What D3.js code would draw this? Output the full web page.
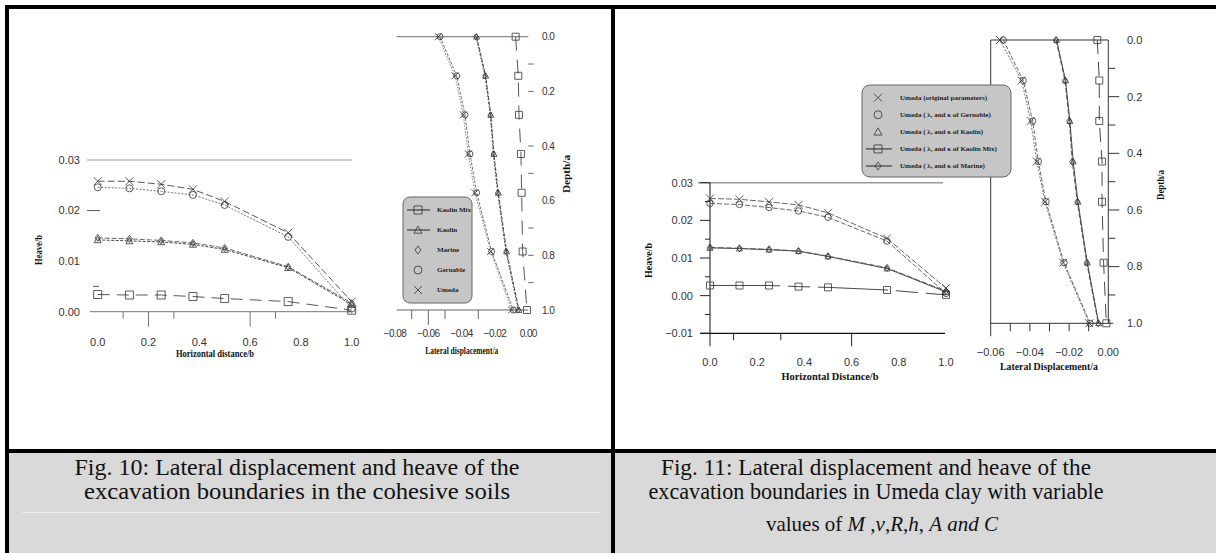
<!DOCTYPE html>
<html>
<head>
<meta charset="utf-8">
<script src="https://cdn.jsdelivr.net/npm/d3@7"></script>
<style>
  body { margin: 0; background: #fff; }
  text { font-family: "Liberation Sans", Arial, sans-serif; }
  .tick { font-size: 11px; fill: #333; }
  .title { font-family: "Liberation Serif", serif; font-weight: bold; font-size: 10px; fill: #111; }
  .leg { font-family: "Liberation Serif", serif; font-weight: bold; font-size: 7px; fill: #222; }
  .cap { font-family: "Liberation Serif", serif; font-size: 24px; fill: #111; }
</style>
</head>
<body>
<div id="main"></div>
<script>
// ---------- data ----------
const xHeave = [0, 0.125, 0.25, 0.375, 0.5, 0.75, 1.0];
const depth = [0, 0.143, 0.286, 0.429, 0.571, 0.786, 1.0];

// Fig. 10 heave/b
const heave10Umeda     = [0.0258, 0.0258, 0.0252, 0.0242, 0.0218, 0.0156, 0.0020];
const heave10Gernable  = [0.0246, 0.0244, 0.0238, 0.0231, 0.0211, 0.0148, 0.0006];
const heave10Marine    = [0.0146, 0.0144, 0.0141, 0.0136, 0.0126, 0.0089, 0.0017];
const heave10Kaolin    = [0.0142, 0.0140, 0.0138, 0.0133, 0.0123, 0.0087, 0.0014];
const heave10KaolinMix = [0.0034, 0.0033, 0.0033, 0.0030, 0.0026, 0.0020, 0.0003];

// Fig. 10 lateral displacement/a
const lat10Umeda     = [-0.0540, -0.0440, -0.0390, -0.0360, -0.0320, -0.0226, -0.0100];
const lat10Gernable  = [-0.0530, -0.0430, -0.0380, -0.0350, -0.0310, -0.0220, -0.0090];
const lat10Marine    = [-0.0314, -0.0260, -0.0228, -0.0210, -0.0184, -0.0134, -0.0060];
const lat10Kaolin    = [-0.0310, -0.0256, -0.0225, -0.0206, -0.0180, -0.0130, -0.0056];
const lat10KaolinMix = [-0.0076, -0.0060, -0.0056, -0.0044, -0.0040, -0.0034, -0.0008];

// Fig. 11 heave/b
const heave11Umeda     = [0.0258, 0.0256, 0.0249, 0.0241, 0.0220, 0.0152, 0.0020];
const heave11Gernable  = [0.0245, 0.0242, 0.0234, 0.0225, 0.0208, 0.0145, 0.0006];
const heave11Kaolin    = [0.0127, 0.0125, 0.0122, 0.0118, 0.0104, 0.0072, 0.0010];
const heave11Marine    = [0.0128, 0.0126, 0.0123, 0.0119, 0.0105, 0.0074, 0.0012];
const heave11KaolinMix = [0.0027, 0.0027, 0.0027, 0.0024, 0.0022, 0.0015, 0.0002];

// Fig. 11 lateral displacement/a
const lat11Umeda     = [-0.0553, -0.0442, -0.0396, -0.0365, -0.0323, -0.0230, -0.0097];
const lat11Gernable  = [-0.0536, -0.0434, -0.0386, -0.0357, -0.0318, -0.0226, -0.0093];
const lat11Marine    = [-0.0267, -0.0221, -0.0199, -0.0184, -0.0158, -0.0110, -0.0051];
const lat11Kaolin    = [-0.0264, -0.0218, -0.0196, -0.0179, -0.0155, -0.0107, -0.0049];
const lat11KaolinMix = [-0.0056, -0.0046, -0.0046, -0.0032, -0.0032, -0.0024, -0.0010];

// tick labels
const heaveXTicks = [0, 0.2, 0.4, 0.6, 0.8, 1.0];
const heave10YTicks = [0, 0.01, 0.02, 0.03];
const heave11YTicks = [-0.01, 0, 0.01, 0.02, 0.03];
const lat10XTicks = [-0.08, -0.06, -0.04, -0.02, 0];
const lat11XTicks = [-0.06, -0.04, -0.02, 0];
const depthTicks = [0, 0.2, 0.4, 0.6, 0.8, 1.0];

const legend10 = ["Kaolin Mix", "Kaolin", "Marine", "Gernable", "Umeda"];
const legend11 = ["Umeda (original parameters)",
                  "Umeda ( \u03bb, and \u03ba of Gernoble)",
                  "Umeda ( \u03bb, and \u03ba of Kaolin)",
                  "Umeda ( \u03bb, and \u03ba of Kaolin Mix)",
                  "Umeda ( \u03bb, and \u03ba of Marine)"];

const caption10 = ["Fig. 10: Lateral displacement and heave of the",
                   "excavation boundaries in the cohesive soils"];
const caption11 = ["Fig. 11: Lateral displacement and heave of the",
                   "excavation boundaries in Umeda clay with variable"];
// third caption line of Fig. 11: [text, italic?]
const caption11Line3 = [["values of ", false], ["M", true], [" ,", false], ["\u03bd", true], [",", false],
                        ["R", true], [",", false], ["h", true], [", ", false], ["A", true],
                        [" ", false], ["and", true], [" ", false], ["C", true]];

// ---------- helpers ----------
const W = 1216, H = 553;
const svg = d3.select("#main").append("svg").attr("width", W).attr("height", H);

function drawMarker(g, type, x, y, r) {
    let p;
    if (type === "x") {
        p = `M${x-r},${y-r}L${x+r},${y+r}M${x+r},${y-r}L${x-r},${y+r}`;
    } else if (type === "triangle") {
        p = `M${x},${y-r}L${x+r},${y+r*0.8}L${x-r},${y+r*0.8}Z`;
    } else if (type === "square") {
        p = `M${x-r},${y-r}h${2*r}v${2*r}h${-2*r}Z`;
    } else if (type === "diamond") {
        p = `M${x},${y-r}L${x+r*0.75},${y}L${x},${y+r}L${x-r*0.75},${y}Z`;
    } else {
        g.append("circle").attr("cx", x).attr("cy", y).attr("r", r)
            .attr("fill", "none").attr("stroke", "#333").attr("stroke-width", 0.8);
        return;
    }
    g.append("path").attr("d", p).attr("fill", "none")
        .attr("stroke", "#333").attr("stroke-width", 0.8);
}

// xs, ys arrays of values; style = {dash, color, marker, r}
function drawSeries(g, xs, ys, xS, yS, st) {
    let pts = xs.map((d, i) => [xS(d), yS(ys[i])]);
    g.append("path")
        .datum(pts)
        .attr("fill", "none")
        .attr("stroke", st.color)
        .attr("stroke-width", st.w || 0.9)
        .attr("stroke-dasharray", st.dash)
        .attr("d", d3.line());
    pts.forEach((p) => drawMarker(g, st.marker, p[0], p[1], st.r));
}

function hline(g, x1, x2, y, color, w) {
    g.append("line").attr("x1", x1).attr("x2", x2).attr("y1", y).attr("y2", y)
        .attr("stroke", color).attr("stroke-width", w || 1);
}
function vline(g, x, y1, y2, color, w) {
    g.append("line").attr("x1", x).attr("x2", x).attr("y1", y1).attr("y2", y2)
        .attr("stroke", color).attr("stroke-width", w || 1);
}
function vtitle(g, x, y, txt, len) {
    g.append("text").attr("class", "title")
        .attr("transform", `translate(${x},${y}) rotate(-90)`)
        .attr("text-anchor", "middle").attr("dy", "0.35em")
        .attr("textLength", len).attr("lengthAdjust", "spacingAndGlyphs")
        .text(txt);
}
function htitle(g, x, y, txt, len) {
    g.append("text").attr("class", "title")
        .attr("x", x).attr("y", y).attr("text-anchor", "middle").attr("dy", "0.35em")
        .attr("textLength", len).attr("lengthAdjust", "spacingAndGlyphs")
        .text(txt);
}

// ---------- frame ----------
const frameG = svg.append("g");
frameG.append("rect").attr("x", 0).attr("y", 0).attr("width", W).attr("height", H).attr("fill", "#fff");
frameG.append("rect").attr("x", 7).attr("y", 453).attr("width", W - 7).attr("height", H - 453).attr("fill", "#d9d9d9");
hline(frameG, 22, 600, 512.5, "#ececec", 1);
frameG.append("rect").attr("x", 5).attr("y", 5).attr("width", W - 5).attr("height", 4).attr("fill", "#000");
frameG.append("rect").attr("x", 5).attr("y", 5).attr("width", 4).attr("height", H - 5).attr("fill", "#000");
frameG.append("rect").attr("x", 611).attr("y", 5).attr("width", 4).attr("height", H - 5).attr("fill", "#000");
frameG.append("rect").attr("x", 5).attr("y", 449).attr("width", W - 5).attr("height", 4).attr("fill", "#000");

// ---------- Fig. 10 heave ----------
const g10h = svg.append("g");
const x10h = d3.scaleLinear().domain([0, 1]).range([97.7, 351.7]);
const y10h = d3.scaleLinear().domain([0, 0.03]).range([311.7, 160]);
hline(g10h, 87, 352, y10h(0.03), "#999", 1.2);
hline(g10h, 90, 352, y10h(0), "#777", 1);
hline(g10h, 87, 100, y10h(0.02), "#555", 1);
hline(g10h, 93, 99, y10h(0.005), "#555", 1);
[0.1, 0.3, 0.7].forEach((d) => vline(g10h, x10h(d), y10h(0), y10h(0) + 7, "#777"));
[0.2, 0.6].forEach((d) => vline(g10h, x10h(d), y10h(0), y10h(0) + 15, "#777"));
g10h.selectAll("text.yl").data(heave10YTicks).enter().append("text")
    .attr("class", "tick").attr("x", 80).attr("y", (d) => y10h(d)).attr("dy", "0.35em")
    .attr("text-anchor", "end").text(d3.format(".2f"));
g10h.selectAll("text.xl").data(heaveXTicks).enter().append("text")
    .attr("class", "tick").attr("x", (d) => x10h(d)).attr("y", 341.7).attr("dy", "0.35em")
    .attr("text-anchor", "middle").text(d3.format(".1f"));
htitle(g10h, 215, 353, "Horizontal distance/b", 78);
vtitle(g10h, 38, 250, "Heave/b", 30);
drawSeries(g10h, xHeave, heave10KaolinMix, x10h, y10h, {color: "#444", dash: "12,7", marker: "square", r: 4});
drawSeries(g10h, xHeave, heave10Kaolin, x10h, y10h, {color: "#333", dash: "3,1.5", marker: "triangle", r: 3.5});
drawSeries(g10h, xHeave, heave10Marine, x10h, y10h, {color: "#555", dash: "5,2", marker: "diamond", r: 3.5});
drawSeries(g10h, xHeave, heave10Gernable, x10h, y10h, {color: "#666", dash: "2,1.5", marker: "circle", r: 3.5});
drawSeries(g10h, xHeave, heave10Umeda, x10h, y10h, {color: "#444", dash: "7,3", marker: "x", r: 4});

// ---------- Fig. 10 lateral ----------
const g10l = svg.append("g");
const x10l = d3.scaleLinear().domain([-0.08, 0]).range([395, 528.3]);
const y10l = d3.scaleLinear().domain([0, 1]).range([36.7, 310]);
hline(g10l, 396.7, 528.3, y10l(0), "#888", 1.2);
hline(g10l, 396.7, 528.3, y10l(1), "#666", 1.2);
[-0.07, -0.05, -0.03].forEach((d) => vline(g10l, x10l(d), y10l(1), y10l(1) + 9, "#666"));
vline(g10l, x10l(-0.06), y10l(1), y10l(1) + 15, "#666");
[0.1, 0.2, 0.4, 0.5, 0.7, 0.8, 0.9].forEach((d) => hline(g10l, 528.3, 533.5, y10l(d), "#666"));
g10l.selectAll("text.xl").data(lat10XTicks).enter().append("text")
    .attr("class", "tick").style("font-size", "10px").style("letter-spacing", "-0.6px")
    .attr("x", (d) => x10l(d)).attr("y", 333.3).attr("dy", "0.35em")
    .attr("text-anchor", "middle").text(d3.format(".2f"));
g10l.selectAll("text.yl").data(depthTicks).enter().append("text")
    .attr("class", "tick").style("font-size", "10px").style("letter-spacing", "-0.6px")
    .attr("x", 542).attr("y", (d) => y10l(d)).attr("dy", "0.35em")
    .text(d3.format(".1f"));
htitle(g10l, 461.7, 350, "Lateral displacement/a", 73);
vtitle(g10l, 566.7, 174, "Depth/a", 38);
drawSeries(g10l, lat10KaolinMix, depth, x10l, y10l, {color: "#444", dash: "14,9", marker: "square", r: 3.5});
drawSeries(g10l, lat10Kaolin, depth, x10l, y10l, {color: "#333", dash: "4,1.5", marker: "triangle", r: 3});
drawSeries(g10l, lat10Marine, depth, x10l, y10l, {color: "#444", dash: "2,1.5", marker: "diamond", r: 3});
drawSeries(g10l, lat10Gernable, depth, x10l, y10l, {color: "#666", dash: "3,1.5", marker: "circle", r: 3});
drawSeries(g10l, lat10Umeda, depth, x10l, y10l, {color: "#777", dash: "1.5,1.5", marker: "x", r: 3.5});

// legend Fig. 10
const leg10 = svg.append("g");
leg10.append("rect").attr("x", 403).attr("y", 197).attr("width", 69).attr("height", 106)
    .attr("rx", 7).attr("fill", "#c6c6c6").attr("stroke", "#666").attr("stroke-width", 1);
const legMarks10 = ["square", "triangle", "diamond", "circle", "x"];
const legRows10 = d3.scaleLinear().domain([0, 4]).range([210, 290]);
legend10.forEach((d, i) => {
    let y = legRows10(i);
    if (i < 2) hline(leg10, 407, 430, y, "#222", 1);
    drawMarker(leg10, legMarks10[i], 418, y, 4);
    leg10.append("text").attr("class", "leg").attr("x", 437).attr("y", y).attr("dy", "0.35em").text(d);
});

// ---------- Fig. 11 heave ----------
const g11h = svg.append("g");
const x11h = d3.scaleLinear().domain([0, 1]).range([710, 946]);
const y11h = d3.scaleLinear().domain([-0.01, 0.03]).range([333.3, 182.7]);
hline(g11h, 698, 943, y11h(0.03), "#999", 1.5);
vline(g11h, x11h(0), y11h(0.03), y11h(-0.01), "#111", 1);
hline(g11h, 700, 945, y11h(-0.01), "#111", 1.3);
heave11YTicks.forEach((d) => hline(g11h, 700, 710, y11h(d), "#222"));
[0.025, 0.015, 0.005, -0.005].forEach((d) => hline(g11h, 705, 710, y11h(d), "#222"));
[0, 0.6].forEach((d) => vline(g11h, x11h(d), y11h(-0.01), y11h(-0.01) + 13, "#222"));
[0.1, 0.3].forEach((d) => vline(g11h, x11h(d), y11h(-0.01), y11h(-0.01) + 7, "#222"));
g11h.selectAll("text.yl").data(heave11YTicks).enter().append("text")
    .attr("class", "tick").attr("x", 693).attr("y", (d) => y11h(d)).attr("dy", "0.35em")
    .attr("text-anchor", "end").text(d3.format(".2f"));
g11h.selectAll("text.xl").data(heaveXTicks).enter().append("text")
    .attr("class", "tick").attr("x", (d) => x11h(d)).attr("y", 361.7).attr("dy", "0.35em")
    .attr("text-anchor", "middle").text(d3.format(".1f"));
htitle(g11h, 830, 376.7, "Horizontal Distance/b", 97);
vtitle(g11h, 648.3, 260.5, "Heave/b", 35);
drawSeries(g11h, xHeave, heave11KaolinMix, x11h, y11h, {color: "#333", dash: "40,0,0,0,30,8,22,8", marker: "square", r: 3.5});
drawSeries(g11h, xHeave, heave11Kaolin, x11h, y11h, {color: "#333", dash: "none", marker: "triangle", r: 3});
drawSeries(g11h, xHeave, heave11Marine, x11h, y11h, {color: "#555", dash: "6,2", marker: "diamond", r: 3.5});
drawSeries(g11h, xHeave, heave11Gernable, x11h, y11h, {color: "#555", dash: "5,2", marker: "circle", r: 3.2});
drawSeries(g11h, xHeave, heave11Umeda, x11h, y11h, {color: "#555", dash: "6,2", marker: "x", r: 4});

// ---------- Fig. 11 lateral ----------
const g11l = svg.append("g");
const x11l = d3.scaleLinear().domain([-0.06, 0]).range([990.7, 1108.3]);
const y11l = d3.scaleLinear().domain([0, 1]).range([40, 323.3]);
hline(g11l, x11l(-0.06), x11l(0), y11l(0), "#333", 1);
hline(g11l, x11l(-0.06), x11l(0) + 5, y11l(1), "#333", 1);
vline(g11l, x11l(-0.06), y11l(0), y11l(1) + 13, "#333", 1);
vline(g11l, x11l(0), y11l(0), y11l(1), "#333", 1);
[-0.05, -0.04, -0.03, -0.02, -0.01].forEach((d) => vline(g11l, x11l(d), y11l(1), y11l(1) + 8, "#333"));
[0.1, 0.3, 0.5, 0.7, 0.9].forEach((d) => hline(g11l, x11l(0), x11l(0) + 7, y11l(d), "#333"));
[0.2, 0.4, 0.6, 0.8].forEach((d) => hline(g11l, x11l(0), x11l(0) + 11, y11l(d), "#333"));
g11l.selectAll("text.xl").data(lat11XTicks).enter().append("text")
    .attr("class", "tick").attr("x", (d) => x11l(d)).attr("y", 351.7).attr("dy", "0.35em")
    .attr("text-anchor", "middle").text(d3.format(".2f"));
g11l.selectAll("text.yl").data(depthTicks).enter().append("text")
    .attr("class", "tick").attr("x", 1127).attr("y", (d) => y11l(d)).attr("dy", "0.35em")
    .text(d3.format(".1f"));
htitle(g11l, 1049, 366.7, "Lateral Displacement/a", 98);
vtitle(g11l, 1160, 185, "Depth/a", 30);
drawSeries(g11l, lat11KaolinMix, depth, x11l, y11l, {color: "#333", dash: "14,8", marker: "square", r: 3.5});
drawSeries(g11l, lat11Kaolin, depth, x11l, y11l, {color: "#333", dash: "none", marker: "triangle", r: 3});
drawSeries(g11l, lat11Marine, depth, x11l, y11l, {color: "#444", dash: "5,2", marker: "diamond", r: 3.5});
drawSeries(g11l, lat11Gernable, depth, x11l, y11l, {color: "#555", dash: "4,2", marker: "circle", r: 3.2});
drawSeries(g11l, lat11Umeda, depth, x11l, y11l, {color: "#666", dash: "2,1.5", marker: "x", r: 4});

// legend Fig. 11
const leg11 = svg.append("g");
leg11.append("rect").attr("x", 862).attr("y", 85).attr("width", 149).attr("height", 92)
    .attr("rx", 8).attr("fill", "#c6c6c6").attr("stroke", "#666").attr("stroke-width", 1);
const legMarks11 = ["x", "circle", "triangle", "square", "diamond"];
const legRows11 = d3.scaleLinear().domain([0, 4]).range([97.7, 166]);
legend11.forEach((d, i) => {
    let y = legRows11(i);
    if (i > 2) hline(leg11, 866, 892, y, "#222", 1);
    drawMarker(leg11, legMarks11[i], 878, y, 4);
    leg11.append("text").attr("class", "leg").attr("x", 900).attr("y", y).attr("dy", "0.35em").text(d);
});

// ---------- captions ----------
const capG = svg.append("g");
const cap10Len = [445, 426];
const cap11Len = [430, 455];
caption10.forEach((d, i) => {
    capG.append("text").attr("class", "cap").attr("x", 297).attr("y", 475 + i * 24)
        .attr("text-anchor", "middle")
        .attr("textLength", cap10Len[i]).attr("lengthAdjust", "spacingAndGlyphs").text(d);
});
caption11.forEach((d, i) => {
    capG.append("text").attr("class", "cap").attr("x", 876).attr("y", 475 + i * 24)
        .attr("text-anchor", "middle")
        .attr("textLength", cap11Len[i]).attr("lengthAdjust", "spacingAndGlyphs").text(d);
});
const line3 = capG.append("text").attr("class", "cap").style("font-size", "21px")
    .attr("x", 882).attr("y", 531).attr("text-anchor", "middle")
    .style("white-space", "pre");
caption11Line3.forEach((p) => {
    line3.append("tspan").style("font-style", p[1] ? "italic" : "normal").text(p[0]);
});
</script>
</body>
</html>
